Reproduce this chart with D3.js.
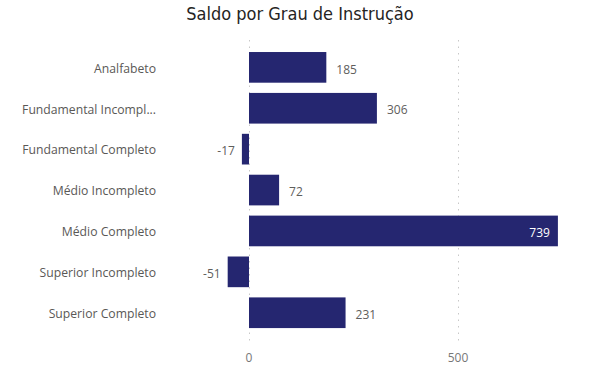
<!DOCTYPE html>
<html>
<head>
<meta charset="utf-8">
<script src="https://cdn.jsdelivr.net/npm/d3@7"></script>
<style>
  body { margin: 0; background: #fff; }
  svg { display: block; }
</style>
</head>
<body>
<div id="main"></div>
<script>
const ctx = {
    SVG_W: 600,
    SVG_H: 386,
};

// categories and values
const categories = [
    "Analfabeto",
    "Fundamental Incompl...",
    "Fundamental Completo",
    "Médio Incompleto",
    "Médio Completo",
    "Superior Incompleto",
    "Superior Completo",
];
const saldo = [185, 306, -17, 72, 739, -51, 231];
const xTicks = [0, 500];

function createViz() {
    let svgEl = d3.select("#main").append("svg")
        .attr("width", ctx.SVG_W)
        .attr("height", ctx.SVG_H);

    // title
    svgEl.append("text")
        .attr("x", 300)
        .attr("y", 20)
        .attr("text-anchor", "middle")
        .attr("font-family", "'DejaVu Sans Condensed', 'DejaVu Sans', sans-serif")
        .attr("font-size", 18)
        .attr("fill", "#252423")
        .text("Saldo por Grau de Instrução");

    let x = d3.scaleLinear().domain([0, 500]).range([249, 458]);
    let y = d3.scaleBand().domain(categories).range([41.8, 338.3]).padding(0.25);

    // dotted gridlines
    svgEl.append("g")
        .attr("class", "grid")
        .selectAll("line")
        .data(xTicks)
        .enter()
        .append("line")
        .attr("x1", d => x(d) + 0.5)
        .attr("x2", d => x(d) + 0.5)
        .attr("y1", 40)
        .attr("y2", 345)
        .attr("stroke", "#c8c8c8")
        .attr("stroke-width", 1)
        .attr("stroke-dasharray", "1.5,5");

    // bars
    svgEl.append("g")
        .attr("class", "bars")
        .selectAll("rect")
        .data(categories)
        .enter()
        .append("rect")
        .attr("x", (d, i) => Math.min(x(0), x(saldo[i])))
        .attr("y", d => y(d))
        .attr("width", (d, i) => Math.abs(x(saldo[i]) - x(0)))
        .attr("height", y.bandwidth())
        .attr("fill", "#252670");

    // category labels
    svgEl.append("g")
        .attr("class", "yLabels")
        .selectAll("text")
        .data(categories)
        .enter()
        .append("text")
        .attr("x", 156)
        .attr("y", d => y(d) + y.bandwidth() / 2 + 1)
        .attr("dy", "0.35em")
        .attr("text-anchor", "end")
        .attr("font-family", "'Open Sans', sans-serif")
        .attr("font-size", 12.2)
        .attr("fill", "#5a5856")
        .text(d => d);

    // value labels
    svgEl.append("g")
        .attr("class", "values")
        .selectAll("text")
        .data(categories)
        .enter()
        .append("text")
        .attr("x", (d, i) => {
            let v = saldo[i];
            if (v >= 600) return x(v) - 8;
            if (v < 0) return x(v) - 7;
            return x(v) + 10;
        })
        .attr("y", d => y(d) + y.bandwidth() / 2 + 2)
        .attr("dy", "0.35em")
        .attr("text-anchor", (d, i) => (saldo[i] >= 600 || saldo[i] < 0) ? "end" : "start")
        .attr("font-family", "'Open Sans', sans-serif")
        .attr("font-size", 12)
        .attr("fill", (d, i) => saldo[i] >= 600 ? "#ffffff" : "#605e5c")
        .text((d, i) => saldo[i]);

    // x tick labels
    svgEl.append("g")
        .attr("class", "xLabels")
        .selectAll("text")
        .data(xTicks)
        .enter()
        .append("text")
        .attr("x", d => x(d))
        .attr("y", 362)
        .attr("text-anchor", "middle")
        .attr("font-family", "'Open Sans', sans-serif")
        .attr("font-size", 12)
        .attr("fill", "#777777")
        .text(d => d);
}

createViz();
</script>
</body>
</html>
